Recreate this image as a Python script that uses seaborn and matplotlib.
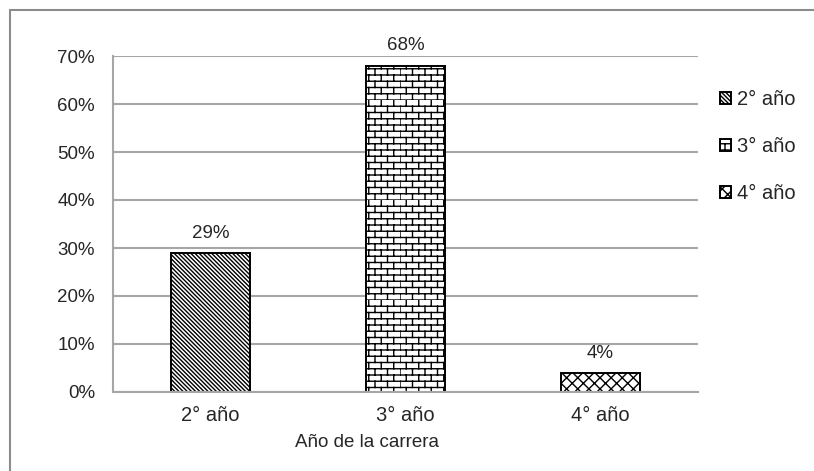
import warnings
import numpy as np
import matplotlib
matplotlib.use("Agg")
import matplotlib.pyplot as plt
import matplotlib.hatch as mhatch
from matplotlib.path import Path
from matplotlib.lines import Line2D
from matplotlib.ticker import FixedLocator, PercentFormatter
import seaborn as sns

warnings.filterwarnings("ignore")

# Data
years = ["2° año", "3° año", "4° año"]
shares = [0.29, 0.68, 0.04]
y_ticks = [0.0, 0.1, 0.2, 0.3, 0.4, 0.5, 0.6, 0.7]
x_label = "Año de la carrera"
hatches = ["\\\\\\\\\\\\\\\\", "bb", "xxx"]


class BrickHatch(mhatch.HatchPatternBase):
    """Running-bond brick texture, selected with the 'b' hatch symbol."""

    def __init__(self, hatch, density):
        n = hatch.count("b")
        self.rows = 8 * n
        self.cols = 4 * n
        self.num_vertices = 2 * self.rows + 2 * self.rows * self.cols

    def set_vertices_and_codes(self, vertices, codes):
        if self.num_vertices == 0:
            return
        pts = []
        for i in range(self.rows):
            y0 = i / self.rows
            y1 = (i + 1) / self.rows
            pts += [(0.0, y0), (1.0, y0)]
            shift = 0.5 * (i % 2)
            for j in range(self.cols):
                x = (j + shift) / self.cols
                pts += [(x, y0), (x, y1)]
        vertices[:] = np.array(pts)
        codes[0::2] = Path.MOVETO
        codes[1::2] = Path.LINETO


mhatch._hatch_types.append(BrickHatch)

sns.set_style("white")
plt.rcParams["font.family"] = ["Liberation Sans", "DejaVu Sans"]
plt.rcParams["hatch.linewidth"] = 1.0
plt.rcParams["hatch.color"] = "black"

text_color = "#262626"
grid_color = "#a6a6a6"
fs = 13.5
fs_cat = 14.5

fig = plt.figure(figsize=(8.14, 4.71), dpi=100)
ax = fig.add_axes([113 / 814, 1 - 392 / 471, (698 - 113) / 814, (392 - 56) / 471])

sns.barplot(x=years, y=shares, color="white", edgecolor="black",
            linewidth=1.4, width=0.405, ax=ax, saturation=1)

for patch, h in zip(ax.patches, hatches):
    patch.set_hatch(h)
    patch.set_facecolor("white")
    patch.set_edgecolor("black")

ax.bar_label(ax.containers[0], labels=[f"{v:.0%}" for v in shares],
             padding=8, fontsize=fs, color=text_color)

ax.set_ylim(0, 0.7)
ax.set_xlim(-0.5, 2.5)
ax.yaxis.set_major_locator(FixedLocator(y_ticks))
ax.yaxis.set_major_formatter(PercentFormatter(1.0, decimals=0))
ax.grid(axis="y", color=grid_color, linewidth=1.5)
ax.set_axisbelow(True)

ax.xaxis.set_minor_locator(FixedLocator([-0.5, 0.5, 1.5, 2.5]))
ax.tick_params(axis="x", which="major", length=0, pad=10,
               labelsize=fs_cat, labelcolor=text_color)
ax.tick_params(axis="x", which="minor", length=7, width=1.5,
               color=grid_color, direction="out")
ax.tick_params(axis="y", length=7, width=1.5, color=grid_color,
               direction="out", pad=6, labelsize=fs, labelcolor=text_color)

for side in ("top", "right"):
    ax.spines[side].set_visible(False)
for side in ("left", "bottom"):
    ax.spines[side].set_color(grid_color)
    ax.spines[side].set_linewidth(1.5)

ax.set_xlabel(x_label, fontsize=fs, color=text_color, labelpad=6)
ax.xaxis.set_label_coords((367 - 113) / 585, -0.125)
ax.set_ylabel("")

leg = fig.legend(ax.patches, years, loc="upper left",
                 bbox_to_anchor=(720 / 814, 1 - 90 / 471),
                 frameon=False, fontsize=fs_cat, labelcolor=text_color,
                 handlelength=0.55, handleheight=0.55, handletextpad=0.3,
                 labelspacing=1.4, borderpad=0, borderaxespad=0)

# Outer frame around the chart area
frame_color = "#8c8c8c"
fig.add_artist(Line2D([10 / 814, 1.05], [1 - 10 / 471, 1 - 10 / 471],
                      transform=fig.transFigure, color=frame_color, lw=1.5))
fig.add_artist(Line2D([10 / 814, 10 / 814], [-0.05, 1 - 10 / 471],
                      transform=fig.transFigure, color=frame_color, lw=1.5))

fig.savefig("out.png", dpi=100)
